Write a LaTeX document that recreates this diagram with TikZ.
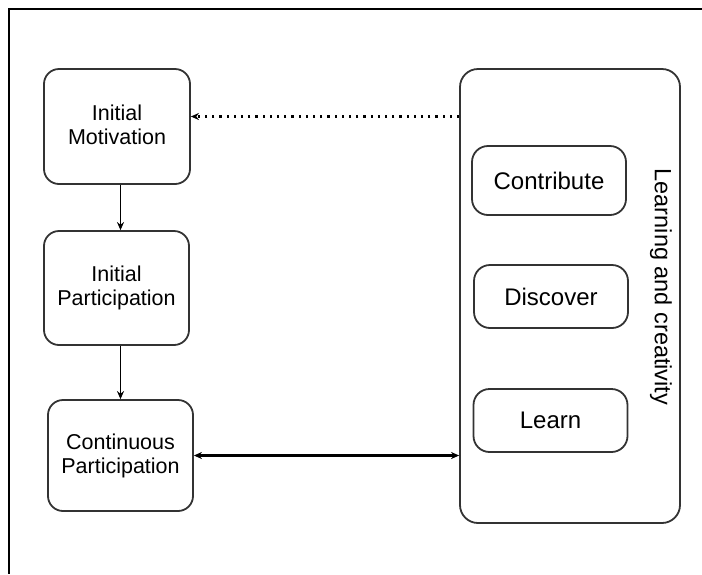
\documentclass[tikz,border=0pt]{standalone}
\usepackage{fontspec}
\setmainfont{Liberation Sans}
\usetikzlibrary{arrows.meta}
\begin{document}
\begin{tikzpicture}[x=1pt,y=-1pt,
    stage/.style={draw=black!80,line width=1.8pt,rounded corners=15pt,
      align=center,font=\fontsize{21.5}{24}\selectfont,inner sep=0pt},
    act/.style={draw=black!80,line width=1.8pt,rounded corners=16pt,
      inner sep=0pt,minimum width=154pt,font=\fontsize{24}{28}\selectfont},
    >={Stealth[length=8pt,width=7pt]}]
      \useasboundingbox (0,0) rectangle (702,574);
      \draw[line width=2.4pt] (702,9) -- (9,9) -- (9,574);
      \node[draw=black!80,line width=1.8pt,rounded corners=18pt,
        minimum width=220pt,minimum height=454pt] (cont) at (570,296) {};
      \draw
        (117,126.5) node[stage,minimum width=146pt,minimum height=115pt,text depth=4pt] (motiv){Initial\\Motivation}
        (116.5,288) node[stage,minimum width=145pt,minimum height=114pt,text depth=4pt] (ipart){Initial\\Participation}
        (120.5,455.5) node[stage,minimum width=145pt,minimum height=111pt] (cpart){Continuous\\Participation}
        (549,180.5) node[act,minimum height=69pt] (contrib){Contribute}
        (551,296.5) node[act,minimum height=63pt] (disc){Discover}
        (550.5,420.5) node[act,minimum height=63pt] (learn){Learn}
        (661,287) node[rotate=-90,font=\fontsize{23.5}{27}\selectfont] (lc){Learning and creativity};
      \begin{scope}[->,line width=1.5pt]
        \draw (motiv.south -| cpart.north) to (ipart.north -| cpart.north);
        \draw (ipart.south -| cpart.north) to (cpart.north);
        \draw[line width=2.2pt,dash pattern=on 2.2pt off 5pt] (cont.west |- 0,116.5) to ([yshift=10pt]motiv.east);
        \draw[<->,line width=2.4pt] (cpart.east) to (cont.west |- cpart.east);
      \end{scope}
    \end{tikzpicture}
\end{document}
